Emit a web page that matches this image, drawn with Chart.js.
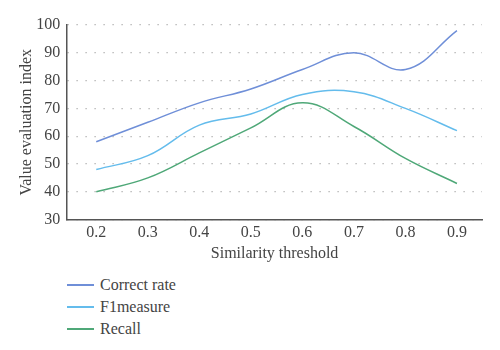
<!DOCTYPE html>
<html>
<head>
<meta charset="utf-8">
<script src="https://cdn.jsdelivr.net/npm/chart.js@4"></script>
<style>
  html, body { margin: 0; padding: 0; background: #fff; }
  #wrap { position: relative; width: 500px; height: 350px; }
  #box { position: absolute; left: 0; top: 0; width: 500px; height: 263px; }
  #legend { position: absolute; left: 67px; top: 274px; font-family: "Liberation Serif", serif; font-size: 16px; color: #444; }
  .item { display: flex; align-items: center; height: 22px; }
  .sw { display: inline-block; width: 27px; height: 1.5px; margin-right: 6px; }
</style>
</head>
<body>
<div id="wrap">
  <div id="box"><canvas id="c"></canvas></div>
  <div id="legend"></div>
</div>
<script>
const categories = [0.2, 0.3, 0.4, 0.5, 0.6, 0.7, 0.8, 0.9];
const seriesNames = ["Correct rate", "F1measure", "Recall"];
const correctRate = [58, 65, 72, 77, 84, 90, 84, 98];
const f1measure = [48, 53, 64, 68, 75, 76, 70, 62];
const recall = [40, 45, 54, 63, 72, 63.5, 52, 43];
const yTicks = [30, 40, 50, 60, 70, 80, 90, 100];
const colors = ["#6f8fd8", "#64bcec", "#4fa878"];

const font = "'Liberation Serif', 'Times New Roman', serif";
const seriesData = [correctRate, f1measure, recall];

const chart = new Chart(document.getElementById("c"), {
  type: "line",
  data: {
    datasets: seriesNames.map((name, i) => ({
      label: name,
      data: categories.map((c, j) => ({ x: c, y: seriesData[i][j] })),
      borderColor: colors[i],
      backgroundColor: colors[i],
      borderWidth: 1.5,
      pointRadius: 0,
      tension: 0.4,
      fill: false
    }))
  },
  options: {
    responsive: true,
    maintainAspectRatio: false,
    animation: false,
    layout: { padding: { left: 17, right: 18, top: 25, bottom: 0 } },
    plugins: { legend: { display: false }, tooltip: { enabled: false } },
    scales: {
      x: {
        type: "linear",
        min: 0.1436, max: 0.9486,
        afterBuildTicks: (axis) => { axis.ticks = categories.map(v => ({ value: v })); },
        grid: { display: false, drawTicks: false },
        border: { display: true, color: "#555", width: 1.5 },
        ticks: { color: "#444", font: { family: font, size: 16 }, padding: 4, callback: (v) => Number(v).toFixed(1) },
        title: { display: true, text: "Similarity threshold", color: "#444", font: { family: font, size: 16 }, padding: { top: -3, bottom: 0 } }
      },
      y: {
        min: 30, max: 100,
        afterBuildTicks: (axis) => { axis.ticks = yTicks.map(v => ({ value: v })); },
        grid: { color: "#aaa", lineWidth: 1.2, drawTicks: false },
        border: { display: true, color: "#555", width: 1.5, dash: [1.2, 7.8] },
        ticks: { color: "#444", font: { family: font, size: 16 }, padding: 7 },
        title: { display: true, text: "Value evaluation index", color: "#444", font: { family: font, size: 16 }, padding: { top: 0, bottom: -7 } }
      }
    }
  }
});

const legend = document.getElementById("legend");
chart.data.datasets.forEach(ds => {
  const it = document.createElement("div");
  it.className = "item";
  const sw = document.createElement("span");
  sw.className = "sw";
  sw.style.background = ds.borderColor;
  const tx = document.createElement("span");
  tx.textContent = ds.label;
  it.appendChild(sw); it.appendChild(tx);
  legend.appendChild(it);
});
</script>
</body>
</html>
